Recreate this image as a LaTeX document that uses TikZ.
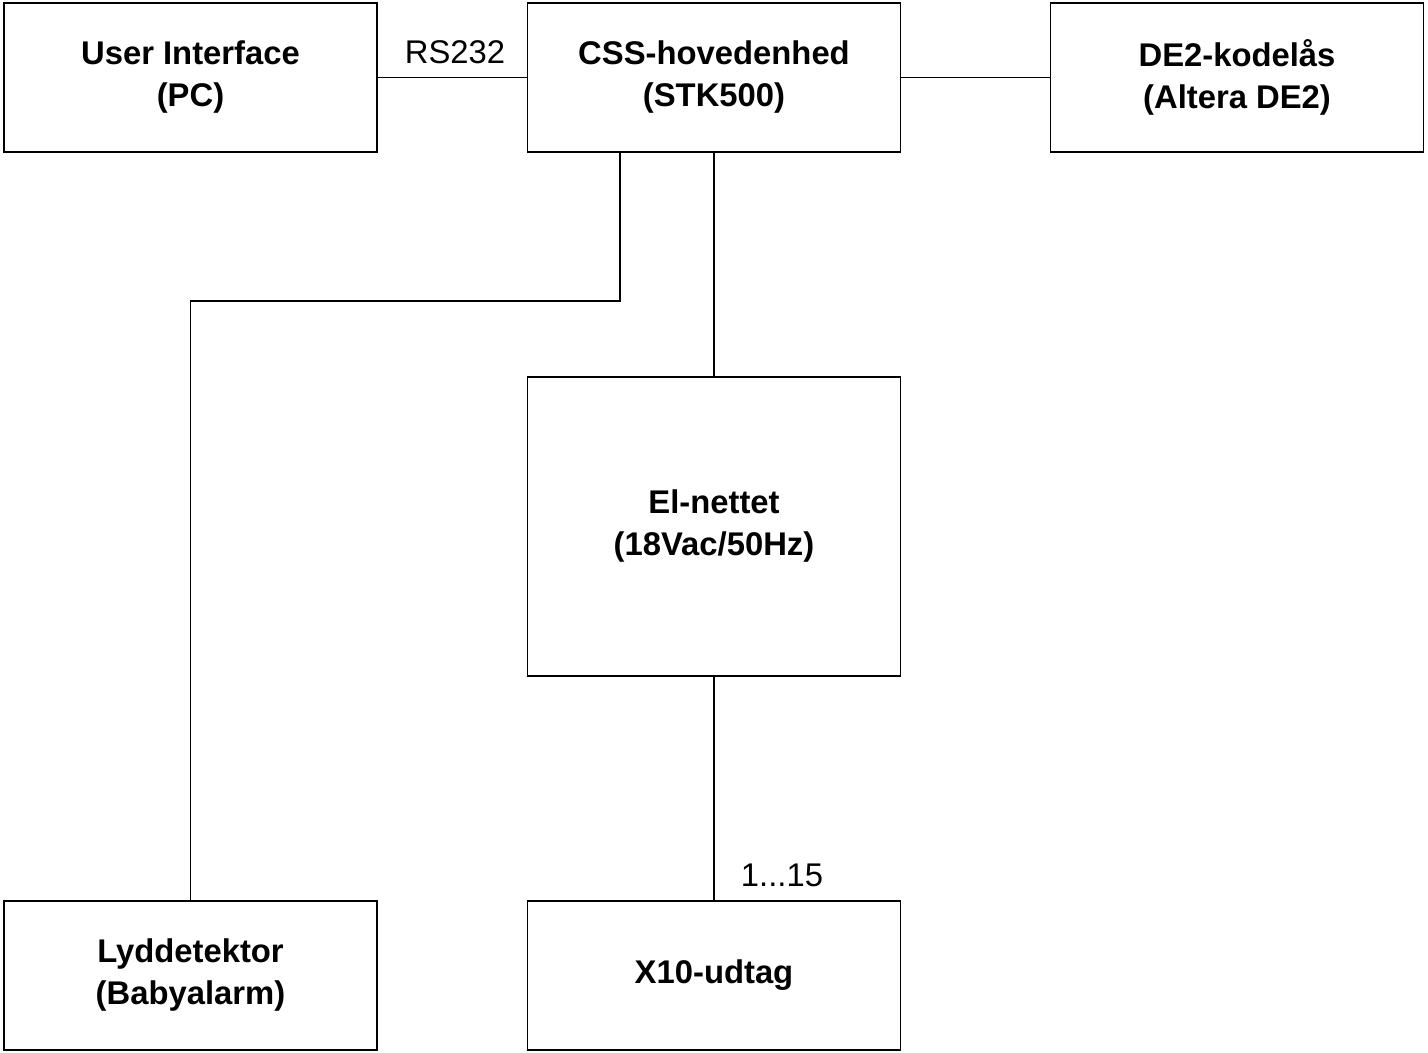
\documentclass[tikz,border=0pt]{standalone}
\usepackage{fontspec}
\setmainfont{Liberation Sans}
\usetikzlibrary{calc,positioning}

\tikzset{
  unit/.style={draw,line width=.6pt,minimum width=186.5pt,minimum height=74.5pt,
    inner sep=0pt,outer sep=0pt,align=center,
    font=\fontsize{16.4}{21}\selectfont\bfseries},
  tall/.style={unit,minimum height=149.5pt},
  wire/.style={line width=.6pt},
  tag/.style={font=\fontsize{16.4}{21}\selectfont,inner sep=0pt}
}

\begin{document}
\begin{tikzpicture}[x=.5pt,y=-.5pt]
  \useasboundingbox (0,0) rectangle (1428,1053);

  % boxes
  \node[unit] (ui)  at (190.5,77.5)  {User Interface\\(PC)};
  \node[unit] (css) at (714,77.5)    {CSS-hovedenhed\\(STK500)};
  \node[unit] (de2) at (1237,77.5)   {DE2-kodelås\\(Altera DE2)};
  \node[tall] (el)  at (714,526.5)   {El-nettet\\(18Vac/50Hz)};
  \node[unit] (lyd) at (190.5,975.5) {Lyddetektor\\(Babyalarm)};
  \node[unit] (x10) at (714,975.5)   {X10-udtag};

  % connections
  \draw[wire] (ui) -- (css);
  \draw[wire] (css) -- (de2);
  \draw[wire] (css) -- (el);
  \draw[wire] (el) -- (x10);

  \coordinate (knee) at (620,301);
  \draw[wire] (css.south -| knee) -- (knee) -| (lyd.north);

  % labels
  \node[tag] (rs)  at (455,52)  {RS232};
  \node[tag] (cnt) at (782,875) {1...15};
\end{tikzpicture}
\end{document}
